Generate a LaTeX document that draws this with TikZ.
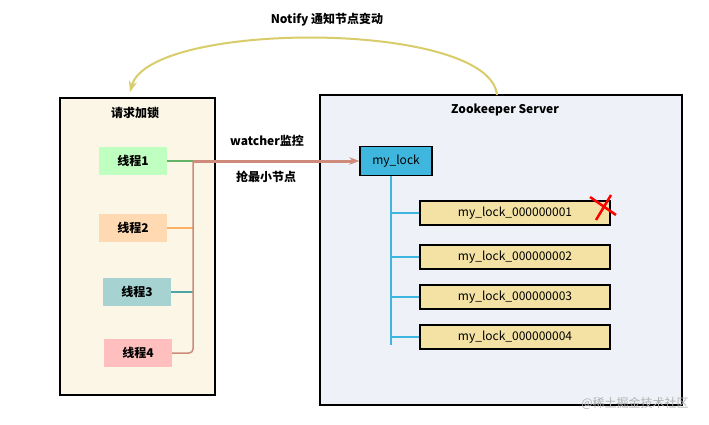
\documentclass[tikz,border=0pt]{standalone}
\usepackage{fontspec}
\setmainfont{Noto Sans CJK SC}
\usetikzlibrary{patterns, arrows.meta}
\definecolor{paper}{HTML}{FBF6E6}
\definecolor{ice}{HTML}{EEF2F8}
\definecolor{lockblue}{HTML}{3FB6DE}
\definecolor{childfill}{HTML}{F3E2A4}
\definecolor{notify}{HTML}{D9CC6A}
\definecolor{watch}{HTML}{CE8A7A}
\newcommand{\lbl}{\fontsize{12}{14}\selectfont}
\tikzset{
	% threads
	thread/.style={
		minimum width=68pt,
		minimum height=28pt,
		font=\lbl\bfseries
	}, %
	% zookeeper nodes
	child/.style={
		draw=black, line width=1.3pt,
		fill=childfill,
		minimum width=190pt,
		minimum height=24pt,
		font=\lbl
	} %
}
\begin{document}
\begin{tikzpicture}[x=1pt, y=-1pt]
			\useasboundingbox[fill=white] (0,0) rectangle (709,424);
			
			% client
			\draw[line width=1.3pt, fill=paper] (60,98) rectangle (215,395);
			\node[font=\lbl\bfseries] (client) at (135,113) {请求加锁};
			\node[thread, fill=green!25] (t1) at (133,161) {线程1};
			\node[thread, fill=orange!30] (t2) at (133,228) {线程2};
			\node[thread, fill=teal!35] (t3) at (137,292) {线程3};
			\node[thread, fill=red!25] (t4) at (138,353) {线程4};
			
			% server
			\draw[line width=1.3pt, fill=ice] (320,95) rectangle (682,405);
			\node[font=\lbl\bfseries] (server) at (505,110) {Zookeeper Server};
			\node[draw=black, line width=1.3pt, fill=lockblue, minimum width=72pt, minimum height=29pt, font=\lbl] (lock) at (396,161) {my\_lock};
			\node[child] (c1) at (515,213) {my\_lock\_000000001};
			\node[child] (c2) at (515,257) {my\_lock\_000000002};
			\node[child] (c3) at (515,297) {my\_lock\_000000003};
			\node[child] (c4) at (515,337) {my\_lock\_000000004};
			
			% tree
			\coordinate (trunk) at (391,345);
			\draw[lockblue, line width=1.3pt] (lock.south -| trunk) -- (trunk);
			\foreach \c in {c1,c2,c3,c4}
				\draw[lockblue, line width=1.3pt] (\c.west -| trunk) -- (\c.west);
			
			% deleted
			\draw[red, line width=2.5pt] (590,197) -- (616,215);
			\draw[red, line width=2.5pt] (611,195) -- (596,220);
			
			% threads to lock
			\coordinate (bus) at (193,161);
			\draw[green!50!black!60, line width=1.5pt] (t1.east) -- (bus);
			\draw[orange!60, line width=1.5pt] (t2.east) -- (t2.east -| bus);
			\draw[teal!70, line width=1.5pt] (t3.east) -- (t3.east -| bus);
			\draw[watch, line width=1.5pt, rounded corners=4pt] (t4.east) -- (t4.east -| bus) -- (bus);
			\draw[-{Stealth[length=10pt]}, watch, line width=3pt] (bus) -- (lock.west);
			\node[font=\lbl\bfseries] (watcher) at (267,141) {watcher监控};
			\node[font=\lbl\bfseries] (grab) at (266,177) {抢最小节点};
			
			% notify
			\coordinate (notifyend) at (130,92);
			\draw[-{Stealth[length=11pt]}, notify, line width=2pt] (497,95) .. controls (490,20) and (150,20) .. (notifyend);
			\node[font=\lbl\bfseries] (notifylbl) at (327,20) {Notify 通知节点变动};
			
			% watermark
			\node[gray!60, font=\lbl] (mark) at (635,403) {@稀土掘金技术社区};
		\end{tikzpicture}
\end{document}
